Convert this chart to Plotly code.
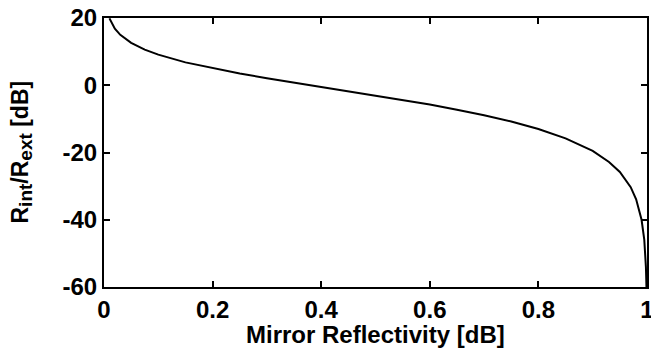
import plotly.graph_objects as go

# Values
reflectivity = [0.01, 0.02, 0.03, 0.05, 0.075, 0.1, 0.15, 0.2, 0.25, 0.3, 0.35, 0.4,
                0.45, 0.5, 0.55, 0.6, 0.65, 0.7, 0.75, 0.8, 0.85, 0.9, 0.93, 0.95,
                0.97, 0.98, 0.99, 0.995, 0.998, 0.999]
ratio_db = [19.9, 16.8, 15.0, 12.6, 10.6, 9.1, 6.8, 5.05, 3.5, 2.1, 0.8, -0.46,
            -1.7, -3.0, -4.3, -5.7, -7.3, -8.9, -10.8, -13.0, -15.8, -19.5, -22.8, -25.8,
            -30.3, -33.9, -40.0, -46.0, -54.0, -60.0]
x_ticks = [0, 0.2, 0.4, 0.6, 0.8, 1]
x_tick_labels = ["0", "0.2", "0.4", "0.6", "0.8", "1"]
y_ticks = [20, 0, -20, -40, -60]
y_tick_labels = ["20", "0", "-20", "-40", "-60"]
x_title = "Mirror Reflectivity [dB]"
y_title = ('R<sub><span style="font-size:19px">int</span></sub>/'
           'R<sub><span style="font-size:19px">ext</span></sub> [dB]')

FONT = "Liberation Sans, Arial, sans-serif"

fig = go.Figure()
fig.add_trace(go.Scatter(x=reflectivity, y=ratio_db, mode="lines",
                         line=dict(color="black", width=2), showlegend=False))

axis_common = dict(showline=True, linecolor="black", linewidth=2, mirror="ticks",
                   ticks="inside", ticklen=6, tickwidth=2, tickcolor="black",
                   showgrid=False, zeroline=False, ticklabeloverflow="allow",
                   automargin=False,
                   tickfont=dict(family=FONT, size=24, color="black", weight="bold"))

fig.update_xaxes(range=[0, 1], tickvals=x_ticks, ticktext=x_tick_labels, **axis_common)
fig.update_yaxes(range=[-60, 20], tickvals=y_ticks, ticktext=y_tick_labels, **axis_common)

L, R, T, B = 104, 4, 18, 71
W, H = 651, 358
pw, ph = W - L - R, H - T - B

fig.add_annotation(text=x_title, xref="paper", yref="paper",
                   x=0.5, y=(H - 334 - B) / ph, xanchor="center", yanchor="middle",
                   showarrow=False,
                   font=dict(family=FONT, size=24, color="black", weight="bold"))
fig.add_annotation(text=y_title, xref="paper", yref="paper",
                   x=(21 - L) / pw, y=0.5, xanchor="center", yanchor="middle",
                   textangle=-90, showarrow=False,
                   font=dict(family=FONT, size=23, color="black", weight="bold"))

fig.update_layout(width=W, height=H, margin=dict(l=L, r=R, t=T, b=B),
                  paper_bgcolor="white", plot_bgcolor="white")

fig.write_html("out.html")
